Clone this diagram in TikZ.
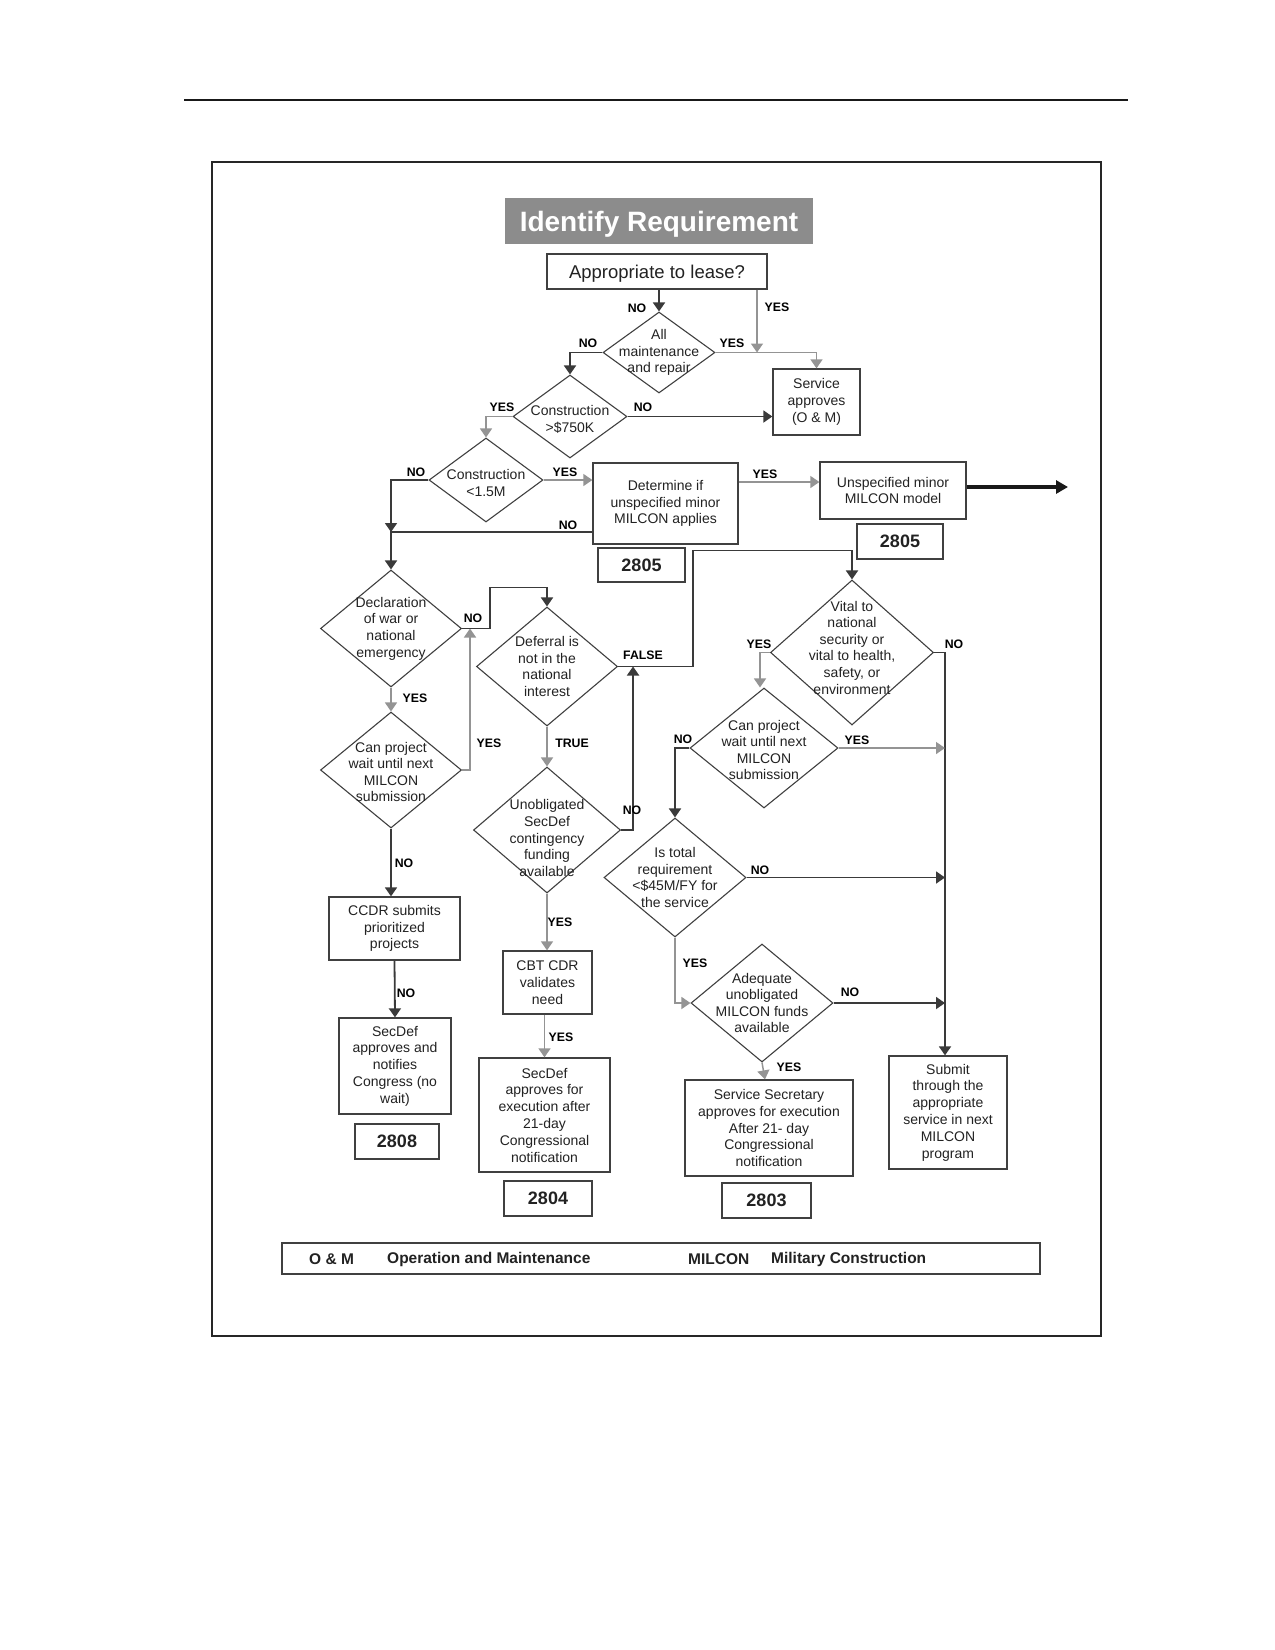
\documentclass[tikz,border=0pt]{standalone}
\usepackage{fontspec}
\setmainfont{Liberation Sans}
\usetikzlibrary{shapes.geometric,arrows.meta,calc}
\definecolor{cdk}{HTML}{3A3A3A}
\definecolor{clt}{HTML}{949494}
\definecolor{cbd}{HTML}{404040}
\definecolor{ctx}{HTML}{222222}
\definecolor{cttl}{HTML}{8C8C8C}
\begin{document}
\begin{tikzpicture}[x=1pt,y=-1pt,
  box/.style={draw=cbd,line width=1.3pt,inner sep=0pt,align=center,font=\fontsize{14}{16.8}\selectfont,text=ctx},
  num/.style={box,font=\fontsize{18}{20}\selectfont\bfseries},
  dia/.style={draw=cbd,line width=1.1pt,shape=diamond,inner sep=0pt},
  dtext/.style={align=center,font=\fontsize{14}{16.6}\selectfont,text=ctx,inner sep=0pt},
  lab/.style={font=\fontsize{12.3}{13}\selectfont\bfseries,text=black,inner sep=0pt},
  dkl/.style={draw=cdk,line width=1.8pt,-{Triangle[width=12pt,length=9pt]}},
  ltl/.style={draw=clt,line width=1.5pt,-{Triangle[width=12pt,length=9pt]}},
  leg/.style={font=\fontsize{15.5}{17}\selectfont\bfseries,text=ctx,inner sep=0pt,anchor=west}]
\useasboundingbox (0,0) rectangle (1275,1650);
\fill[white] (0,0) rectangle (1275,1650);
% page rule and frame
\draw[line width=2.5pt,black!90] (184,100) -- (1128,100);
\draw[line width=2pt,black!85] (212,162) rectangle (1101,1336);

% title and top box
\node[fill=cttl,text=white,font=\fontsize{28}{30}\selectfont\bfseries,minimum width=308,minimum height=46,inner sep=0pt,text depth=0pt] (title) at (659,221) {Identify Requirement};
\node[box,font=\fontsize{18.5}{20}\selectfont,minimum width=220,minimum height=35,text depth=0pt] (lease) at (657,271.5) {Appropriate to lease?};

% diamonds
\node[dia,minimum width=112,minimum height=81] (allm) at (659,352.5) {};
\node[dtext] (allm-t) at (allm) {All\\maintenance\\and repair};
\node[dia,minimum width=114,minimum height=83] (c750) at (570,416.5) {};
\node[dtext] (c750-t) at ([yshift=-3pt]c750.center) {Construction\\>\$750K};
\node[dia,minimum width=114,minimum height=84] (c15) at (486,480) {};
\node[dtext] (c15-t) at ([yshift=-3pt]c15.center) {Construction\\<1.5M};
\node[dia,minimum width=141,minimum height=117] (decl) at (391,628.5) {};
\node[dtext] (decl-t) at (decl) {Declaration\\of war or\\national\\emergency};
\node[dia,minimum width=141,minimum height=116] (canp1) at (391,770) {};
\node[dtext] (canp1-t) at ([yshift=-2pt]canp1.center) {Can project\\wait until next\\MILCON\\submission};
\node[dia,minimum width=141,minimum height=119] (defer) at (547,666.5) {};
\node[dtext] (defer-t) at (defer) {Deferral is\\not in the\\national\\interest};
\node[dia,minimum width=147,minimum height=126] (unob) at (547,830) {};
\node[dtext] (unob-t) at ([yshift=-8pt]unob.center) {Unobligated\\SecDef\\contingency\\funding\\available};
\node[dia,minimum width=163,minimum height=145] (vital) at (852,652.5) {};
\node[dtext] (vital-t) at ([yshift=5pt]vital.center) {Vital to\\national\\security or\\vital to health,\\safety, or\\environment};
\node[dia,minimum width=148,minimum height=120] (canp2) at (764,748) {};
\node[dtext] (canp2-t) at ([yshift=-2pt]canp2.center) {Can project\\wait until next\\MILCON\\submission};
\node[dia,minimum width=142,minimum height=119] (istot) at (675,877.5) {};
\node[dtext] (istot-t) at (istot) {Is total\\requirement\\<\$45M/FY for\\the service};
\node[dia,minimum width=142,minimum height=118] (adeq) at (762,1003) {};
\node[dtext] (adeq-t) at (adeq) {Adequate\\unobligated\\MILCON funds\\available};

% boxes
\node[box,minimum width=87,minimum height=66] (service) at (816.5,402) {Service\\approves\\(O \& M)};
\node[box,minimum width=145,minimum height=81] (determine) at (665.5,503.5) {Determine if\\unspecified minor\\MILCON applies};
\node[num,minimum width=87,minimum height=34] (n2805a) at (641.5,565) {2805};
\node[box,minimum width=146,minimum height=57] (unspec) at (893,490.5) {Unspecified minor\\MILCON model};
\node[num,minimum width=86,minimum height=35] (n2805b) at (900,541.5) {2805};
\node[box,minimum width=131,minimum height=63] (ccdr) at (394.5,928.5) {CCDR submits\\prioritized\\projects};
\node[box,minimum width=112,minimum height=96] (secdef1) at (395,1066) {SecDef\\approves and\\notifies\\Congress (no\\wait)};
\node[num,minimum width=84,minimum height=35] (n2808) at (397,1141.5) {2808};
\node[box,minimum width=89,minimum height=63] (cbt) at (547.5,982.5) {CBT CDR\\validates\\need};
\node[box,minimum width=131,minimum height=114] (secdef2) at (544.5,1115) {SecDef\\approves for\\execution after\\21-day\\Congressional\\notification};
\node[num,minimum width=88,minimum height=35] (n2804) at (548,1198.5) {2804};
\node[box,minimum width=168,minimum height=96] (servsec) at (769,1128) {Service Secretary\\approves for execution\\After 21- day\\Congressional\\notification};
\node[num,minimum width=89,minimum height=35] (n2803) at (766.5,1200.5) {2803};
\node[box,minimum width=118,minimum height=113] (submit) at (948,1112.5) {Submit\\through the\\appropriate\\service in next\\MILCON\\program};

% legend
\node[draw=cbd,line width=1.3pt,minimum width=758,minimum height=31,inner sep=0pt] (legend) at (661,1258.5) {};
\node[leg] (lg1) at (309,1259) {O \& M};
\node[leg] (lg2) at (387,1259) {Operation and Maintenance};
\node[leg] (lg3) at (688,1259) {MILCON};
\node[leg] (lg4) at (771,1259) {Military Construction};

% helper coordinates
\coordinate (yj) at (757,352.5);
\coordinate (j1) at (391,532);
\coordinate (j2) at (470,628.5);
\coordinate (out) at (1068,487);
\coordinate (yu) at ($(unspec.west)+(0,-8.5)$);

% connectors, top part
\draw[dkl] (lease.south -| allm.north) -- (allm.north);
\draw[ltl] (lease.south -| yj) -- (yj);
\draw[ltl] (allm.east) -| (service.north);
\draw[dkl] (allm.west) -| (c750.north);
\draw[dkl] (c750.east) -- (c750.east -| service.west);
\draw[ltl] (c750.west) -| (c15.north);
\draw[ltl] (c15.east) -- (c15.east -| determine.west);
\draw[dkl] (c15.west) -| (j1);
\draw[dkl] (determine.west |- j1) -- (j1) -- (decl.north);
\draw[ltl] (determine.east |- yu) -- (yu);
\draw[line width=3.5pt,black!90,-{Triangle[width=13pt,length=12pt]}] (unspec.east |- out) -- (out);

% left column
\draw[ltl] (decl.south) -- (canp1.north);
\draw[ltl] (canp1.east) -| (j2);
\draw[dkl] (decl.east) -- ++(28,0) |- ($(defer.north)+(0,-19)$) -- (defer.north);
\draw[dkl] (canp1.south) -- (canp1.south |- ccdr.north);
\draw[dkl] (ccdr.south) -- (secdef1.north);

% middle column
\draw[ltl] (defer.south) -- (unob.north);
\draw[dkl] (defer.east) -- ++(75,0) |- ($(vital.north)+(0,-29)$) -- (vital.north);
\draw[dkl] (unob.east) -| ($(defer.east)+(15,0)$);
\draw[ltl] (unob.south) -- (cbt.north -| unob.south);
\draw[ltl] (cbt.south -| secdef2.north) -- (secdef2.north);

% right columns
\draw[ltl] (vital.west) -| ($(canp2.north)+(-4,0)$);
\draw[dkl] (vital.east) -| ($(submit.north)+(-3,0)$);
\draw[ltl] (canp2.east) -- ($(canp2.east -| submit.north)+(-3,0)$);
\draw[dkl] (canp2.west) -| (istot.north);
\draw[dkl] (istot.east) -- ($(istot.east -| submit.north)+(-3,0)$);
\draw[ltl] (istot.south) |- (adeq.west);
\draw[dkl] (adeq.east) -- ($(adeq.east -| submit.north)+(-3,0)$);
\draw[ltl] (adeq.south) -- ($(servsec.north)+(-4,0)$);

% labels
\node[lab] (l1) at (637,308) {NO};
\node[lab] (l2) at (777,307) {YES};
\node[lab] (l3) at (588,343) {NO};
\node[lab] (l4) at (732,343) {YES};
\node[lab] (l5) at (502,407) {YES};
\node[lab] (l6) at (643,407) {NO};
\node[lab] (l7) at (416,472) {NO};
\node[lab] (l8) at (565,472) {YES};
\node[lab] (l9) at (568,525) {NO};
\node[lab] (l10) at (765,474) {YES};
\node[lab] (l11) at (473,618) {NO};
\node[lab] (l12) at (415,698) {YES};
\node[lab] (l13) at (489,743) {YES};
\node[lab] (l14) at (572,743) {TRUE};
\node[lab] (l15) at (643,655) {FALSE};
\node[lab] (l16) at (632,810) {NO};
\node[lab] (l17) at (404,863) {NO};
\node[lab] (l18) at (406,993) {NO};
\node[lab] (l19) at (560,922) {YES};
\node[lab] (l20) at (561,1037) {YES};
\node[lab] (l21) at (759,644) {YES};
\node[lab] (l22) at (954,644) {NO};
\node[lab] (l23) at (683,739) {NO};
\node[lab] (l24) at (857,740) {YES};
\node[lab] (l25) at (760,870) {NO};
\node[lab] (l26) at (695,963) {YES};
\node[lab] (l27) at (850,992) {NO};
\node[lab] (l28) at (789,1067) {YES};
\end{tikzpicture}
\end{document}
